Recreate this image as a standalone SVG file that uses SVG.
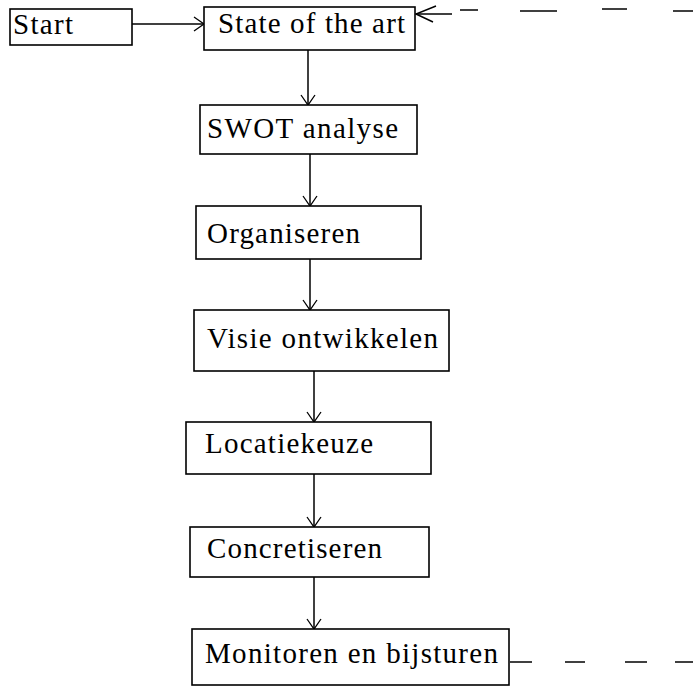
<svg xmlns="http://www.w3.org/2000/svg" width="693" height="686" viewBox="0 0 693 686">
<style>
.box{fill:#fff;stroke:#000;stroke-width:1.6}
.lbl{font-family:"Liberation Serif","Times New Roman",serif;font-size:29px;fill:#000}
.con{fill:none;stroke:#000;stroke-width:1.5}
</style>
<defs>
<marker id="ah" markerUnits="userSpaceOnUse" markerWidth="24" markerHeight="24" refX="12" refY="12" orient="auto" overflow="visible">
<path d="M2 5 L12 12 L2 19" fill="none" stroke="#000" stroke-width="1.3"/>
</marker>
</defs>
<rect width="693" height="686" fill="#fff"/>
<g id="connectors">
<line class="con" x1="132" y1="24" x2="204" y2="24" marker-end="url(#ah)"/>
<line class="con" x1="308" y1="50" x2="308" y2="105" marker-end="url(#ah)"/>
<line class="con" x1="310" y1="154" x2="310" y2="206" marker-end="url(#ah)"/>
<line class="con" x1="310" y1="259" x2="310" y2="310" marker-end="url(#ah)"/>
<line class="con" x1="314" y1="371" x2="314" y2="422" marker-end="url(#ah)"/>
<line class="con" x1="314" y1="474" x2="314" y2="527" marker-end="url(#ah)"/>
<line class="con" x1="314" y1="577" x2="314" y2="629" marker-end="url(#ah)"/>
<g id="feedback">
<line class="con" x1="510" y1="662" x2="532" y2="662"/>
<line class="con" x1="565" y1="662" x2="585" y2="662"/>
<line class="con" x1="625" y1="662" x2="647" y2="662"/>
<line class="con" x1="675" y1="662" x2="693" y2="662"/>
<line class="con" x1="693" y1="11" x2="673" y2="11"/>
<line class="con" x1="627" y1="9" x2="602" y2="9"/>
<line class="con" x1="557" y1="11" x2="520" y2="11"/>
<line class="con" x1="478" y1="10" x2="460" y2="10"/>
<line class="con" x1="452" y1="14" x2="416" y2="14"/>
<path class="con" d="M436 6 L416 14 L433 22"/>
</g>
</g>
<g id="start"><rect class="box" x="10" y="9" width="122" height="36"/><text class="lbl" x="13" y="34" textLength="60" lengthAdjust="spacing">Start</text></g>
<g id="state"><rect class="box" x="204" y="7" width="211" height="43"/><text class="lbl" x="218" y="33" textLength="187" lengthAdjust="spacing">State of the art</text></g>
<g id="swot"><rect class="box" x="200" y="105" width="217" height="49"/><text class="lbl" x="207" y="138" textLength="191" lengthAdjust="spacing">SWOT analyse</text></g>
<g id="organiseren"><rect class="box" x="196" y="206" width="225" height="53"/><text class="lbl" x="207" y="243" textLength="153" lengthAdjust="spacing">Organiseren</text></g>
<g id="visie"><rect class="box" x="194" y="310" width="255" height="61"/><text class="lbl" x="207" y="348" textLength="231" lengthAdjust="spacing">Visie ontwikkelen</text></g>
<g id="locatiekeuze"><rect class="box" x="186" y="422" width="245" height="52"/><text class="lbl" x="205" y="453" textLength="168" lengthAdjust="spacing">Locatiekeuze</text></g>
<g id="concretiseren"><rect class="box" x="190" y="527" width="239" height="50"/><text class="lbl" x="207" y="558" textLength="175" lengthAdjust="spacing">Concretiseren</text></g>
<g id="monitoren"><rect class="box" x="192" y="629" width="317" height="56"/><text class="lbl" x="205" y="663" textLength="293" lengthAdjust="spacing">Monitoren en bijsturen</text></g>
</svg>
